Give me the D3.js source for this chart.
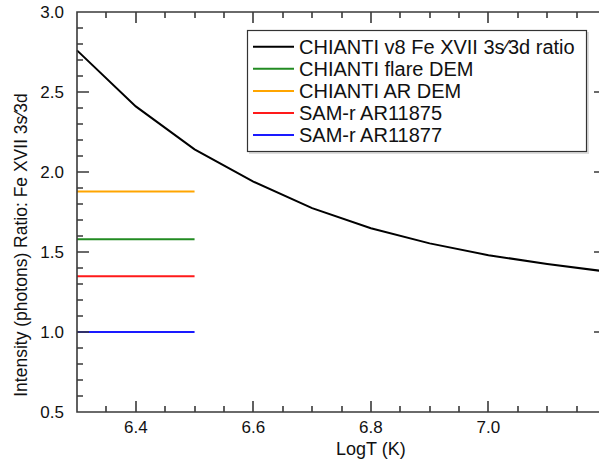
<!DOCTYPE html>
<html><head><meta charset="utf-8">
<script src="https://cdn.jsdelivr.net/npm/d3@7"></script>
<style>body{margin:0;background:#fff}svg{display:block}text{font-family:"Liberation Sans",Arial,Helvetica,sans-serif}</style>
</head><body><svg id="c" width="599" height="461" xmlns="http://www.w3.org/2000/svg"></svg>
<script>
const logT = [6.3, 6.4, 6.5, 6.6, 6.7, 6.8, 6.9, 7.0, 7.1, 7.2];
const ratio = [2.76, 2.41, 2.142, 1.94, 1.774, 1.648, 1.554, 1.48, 1.425, 1.378];
const refNames = ["CHIANTI flare DEM", "CHIANTI AR DEM", "SAM-r AR11875", "SAM-r AR11877"];
const refValues = [1.58, 1.878, 1.348, 1.0];
const refColors = ["#228B22", "#FFA500", "#FF1A1A", "#1A1AFF"];
const refRange = [6.3, 6.5];
const curveName = "CHIANTI v8 Fe XVII 3s\u20443d ratio";
const xTicks = [6.4, 6.6, 6.8, 7.0];
const yTicks = [0.5, 1.0, 1.5, 2.0, 2.5, 3.0];

const svg = d3.select("#c");
const L = 77, T = 12, R = 606, B = 412;
const x = d3.scaleLinear().domain([6.3, 7.2]).range([L, R]);
const y = d3.scaleLinear().domain([0.5, 3.0]).range([B, T]);
const axisCol = "#3a3a3a";

const xMinor = d3.range(0, 19).map(i => 6.3 + i * 0.05);
const yMinor = d3.range(0, 26).map(i => 0.5 + i * 0.1);
const isMajor = (arr, v) => arr.some(t => Math.abs(t - v) < 1e-6);

// data
const pg = svg.append("g");
refValues.forEach((v, i) => {
  pg.append("line").attr("x1", x(refRange[0])).attr("x2", x(refRange[1]))
    .attr("y1", y(v)).attr("y2", y(v)).attr("stroke", refColors[i]).attr("stroke-width", 2);
});
pg.append("path").datum(logT.map((t, i) => [t, ratio[i]]))
  .attr("d", d3.line().x(d => x(d[0])).y(d => y(d[1])))
  .attr("fill", "none").attr("stroke", "#000").attr("stroke-width", 2);

// frame + inward ticks in one path
const p = d3.path();
p.moveTo(L, T); p.lineTo(R, T); p.lineTo(R, B); p.lineTo(L, B); p.closePath();
xMinor.forEach(v => {
  const len = isMajor(xTicks, v) ? 11 : 6;
  const px = Math.round(x(v));
  p.moveTo(px, B); p.lineTo(px, B - len);
  p.moveTo(px, T); p.lineTo(px, T + len);
});
yMinor.forEach(v => {
  const len = isMajor(yTicks, v) ? 12 : 6;
  const py = Math.round(y(v));
  p.moveTo(L, py); p.lineTo(L + len, py);
  p.moveTo(R, py); p.lineTo(R - len, py);
});
svg.append("path").attr("d", p.toString()).attr("fill", "none")
  .attr("stroke", axisCol).attr("stroke-width", 1.6);

// tick labels
svg.append("g").selectAll("text").data(xTicks).join("text")
  .attr("x", d => x(d)).attr("y", 433).attr("text-anchor", "middle")
  .attr("font-size", 17).attr("fill", "#111").text(d3.format(".1f"));
svg.append("g").selectAll("text").data(yTicks).join("text")
  .attr("x", 64).attr("y", d => y(d) + 6).attr("text-anchor", "end")
  .attr("font-size", 17).attr("fill", "#111").text(d3.format(".1f"));

// axis titles
svg.append("text").attr("x", x(6.8)).attr("y", 455).attr("text-anchor", "middle")
  .attr("font-size", 18).attr("fill", "#111").text("LogT (K)");
svg.append("text").attr("transform", `translate(27,${(98+392)/2}) rotate(-90)`).attr("text-anchor", "middle")
  .attr("font-size", 17.5).attr("fill", "#111").text("Intensity (photons) Ratio: Fe XVII 3s\u20443d");

// legend
const lg = svg.append("g");
lg.append("rect").attr("x", 249).attr("y", 32).attr("width", 340).attr("height", 122).attr("fill", "#ddd");
lg.append("rect").attr("x", 247.5).attr("y", 30.5).attr("width", 339).attr("height", 121)
  .attr("fill", "#fff").attr("stroke", "#333").attr("stroke-width", 1.2);
const items = [{name: curveName, color: "#000"}].concat(refNames.map((n, i) => ({name: n, color: refColors[i]})));
items.forEach((it, i) => {
  const yy = 46.7 + i * 22.1;
  lg.append("line").attr("x1", 253).attr("x2", 294).attr("y1", yy).attr("y2", yy)
    .attr("stroke", it.color).attr("stroke-width", 2);
  lg.append("text").attr("x", 299).attr("y", yy + 7).attr("font-size", 20).attr("fill", "#111").text(it.name);
});
</script></body></html>
